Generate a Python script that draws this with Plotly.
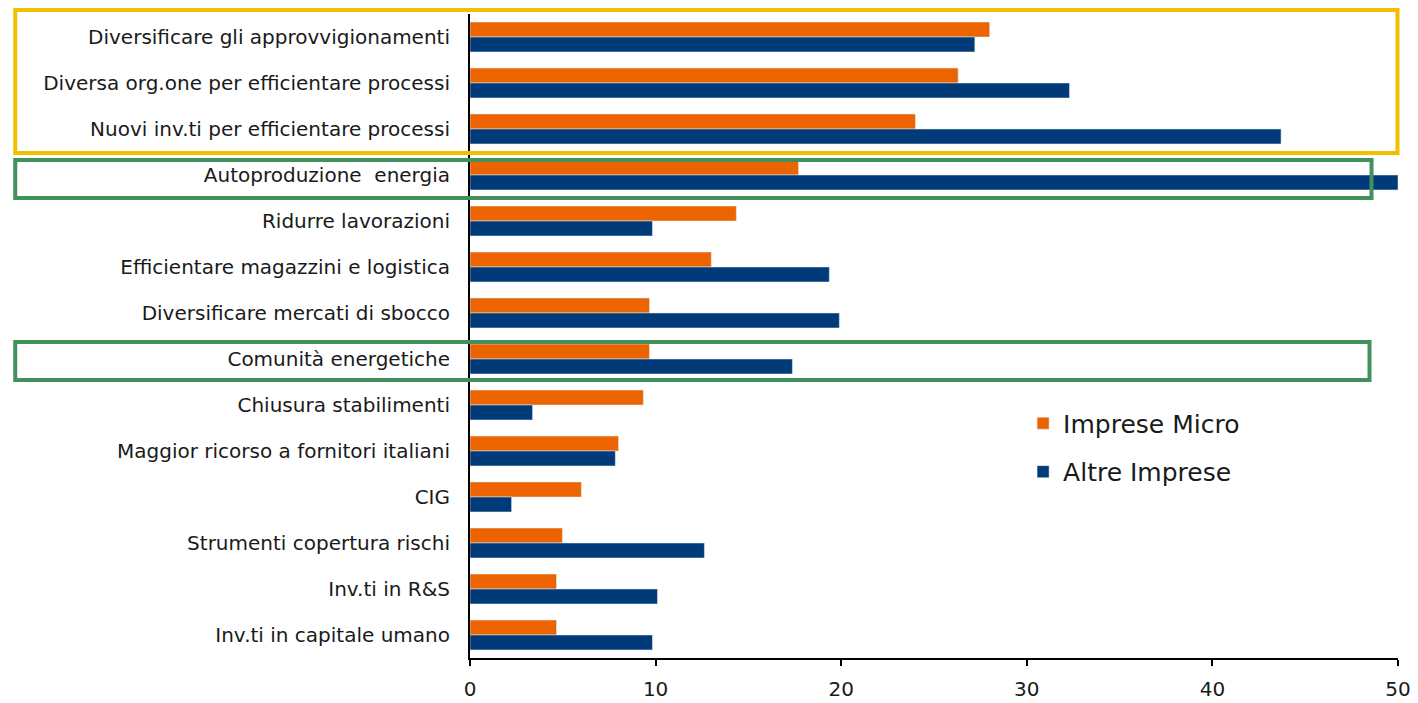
import plotly.graph_objects as go

# dati
categorie = ["Diversificare gli approvvigionamenti", "Diversa org.one per efficientare processi",
             "Nuovi inv.ti per efficientare processi", "Autoproduzione  energia", "Ridurre lavorazioni",
             "Efficientare magazzini e logistica", "Diversificare mercati di sbocco", "Comunità energetiche",
             "Chiusura stabilimenti", "Maggior ricorso a fornitori italiani", "CIG",
             "Strumenti copertura rischi", "Inv.ti in R&S", "Inv.ti in capitale umano"]
imprese_micro = [28.0, 26.3, 24.0, 17.7, 14.35, 13.0, 9.67, 9.67, 9.34, 8.0, 6.0, 4.98, 4.66, 4.66]
altre_imprese = [27.2, 32.3, 43.7, 50.0, 9.83, 19.36, 19.9, 17.37, 3.37, 7.83, 2.24, 12.63, 10.1, 9.83]
x_ticks = [0, 10, 20, 30, 40, 50]

FONT = "DejaVu Sans"
ARANCIO = "#EB6400"
BLU = "#003A78"
GIALLO = "#EFBF00"
VERDE = "#43905F"

fig = go.Figure()
fig.add_trace(go.Bar(y=categorie, x=imprese_micro, orientation='h', name='Imprese Micro',
                     marker_color=ARANCIO, legendgroup='a'))
fig.add_trace(go.Bar(y=categorie, x=altre_imprese, orientation='h', name='Altre Imprese',
                     marker_color=BLU, legendgroup='b'))

# la pagina ha 8px di margine del body
OFF = 8
W, H = 1418 - OFF, 703 - OFF
l, r, t, b = 470 - OFF, 19.5, 14 - OFF, 45
pw, ph = W - l - r, H - t - b

def px2paper(x, y):
    # coordinate pixel della pagina -> paper
    return (x - OFF - l) / pw, (H - b - (y - OFF)) / ph

# riquadri evidenziati
boxes = [((15, 10), (1398, 153), GIALLO),
         ((15, 160), (1372, 198), VERDE),
         ((15, 342), (1370, 380), VERDE)]
for (ax, ay), (bx, by), col in boxes:
    x0, y0 = px2paper(ax, by)
    x1, y1 = px2paper(bx, ay)
    fig.add_shape(type='rect', xref='paper', yref='paper', x0=x0, x1=x1, y0=y0, y1=y1,
                  line=dict(color=col, width=4), layer='above')

fig.update_layout(
    width=W, height=H,
    barmode='group', bargap=0.35, bargroupgap=0,
    paper_bgcolor='white', plot_bgcolor='white',
    margin=dict(l=l, r=r, t=t, b=b, autoexpand=False),
    font=dict(family=FONT, color='#1a1a1a'),
    legend=dict(x=0.596, y=0.40, xanchor='left', yanchor='top', font=dict(size=25, family=FONT),
                traceorder='grouped', tracegroupgap=13, bgcolor='rgba(0,0,0,0)'),
)
fig.update_xaxes(range=[0, 50], tickvals=x_ticks, showgrid=False, zeroline=False,
                 showline=True, linecolor='black', linewidth=2, ticks='outside',
                 ticklen=6, tickwidth=2, tickcolor='black', tickfont=dict(size=20),
                 ticklabelstandoff=6)
fig.update_yaxes(autorange='reversed', showgrid=False, showline=True, linecolor='black',
                 linewidth=2, ticks='', ticklabelstandoff=14, tickfont=dict(size=20))

fig.write_html("out.html")
